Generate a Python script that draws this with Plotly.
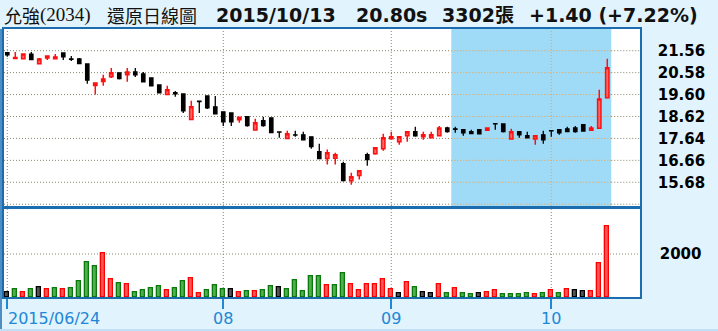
import plotly.graph_objects as go

# ---------------- data ----------------
dates = [
    "2015-06-24", "2015-06-25", "2015-06-26", "2015-06-29", "2015-06-30",
    "2015-07-01", "2015-07-02", "2015-07-03", "2015-07-06", "2015-07-07", "2015-07-08", "2015-07-09",
    "2015-07-13", "2015-07-14", "2015-07-15", "2015-07-16", "2015-07-17", "2015-07-20", "2015-07-21",
    "2015-07-22", "2015-07-23", "2015-07-24", "2015-07-27", "2015-07-28", "2015-07-29", "2015-07-30",
    "2015-07-31",
    "2015-08-03", "2015-08-04", "2015-08-05", "2015-08-06", "2015-08-07", "2015-08-10", "2015-08-11",
    "2015-08-12", "2015-08-13", "2015-08-14", "2015-08-17", "2015-08-18", "2015-08-19", "2015-08-20",
    "2015-08-21", "2015-08-24", "2015-08-25", "2015-08-26", "2015-08-27", "2015-08-28", "2015-08-31",
    "2015-09-01", "2015-09-02", "2015-09-03", "2015-09-04", "2015-09-07", "2015-09-08", "2015-09-09",
    "2015-09-10", "2015-09-11", "2015-09-14", "2015-09-15", "2015-09-16", "2015-09-17", "2015-09-18",
    "2015-09-21", "2015-09-22", "2015-09-23", "2015-09-24", "2015-09-25", "2015-09-30",
    "2015-10-01", "2015-10-02", "2015-10-05", "2015-10-06", "2015-10-07", "2015-10-08", "2015-10-12",
    "2015-10-13",
]

open_ = [21.47, 21.21, 21.20, 21.41, 20.98, 21.23, 21.20, 21.46, 21.19, 21.19,
         20.97, 20.00, 20.18, 20.40, 20.57, 20.49, 20.61, 20.52, 20.34, 20.03,
         19.60, 19.68, 19.63, 18.49, 19.31, 19.54, 19.05, 18.83, 18.78, 18.47,
         18.61, 18.02, 18.43, 18.56, 17.93, 17.64, 17.80, 17.80, 17.71, 17.05,
         16.74, 16.75, 16.51, 15.75, 15.98, 16.91, 16.96, 17.18, 17.63, 17.49,
         17.76, 17.94, 17.71, 17.67, 17.76, 18.11, 18.07, 18.03, 17.94, 18.03,
         18.01, 18.30, 18.29, 17.61, 17.94, 17.76, 17.61, 17.80, 17.99, 18.03,
         18.07, 18.11, 18.25, 18.01, 18.09, 19.46]
high = [21.50, 21.50, 21.42, 21.50, 21.23, 21.32, 21.41, 21.46, 21.32, 21.23,
        20.97, 20.12, 20.48, 20.79, 20.60, 20.79, 20.79, 20.61, 20.34, 20.03,
        19.99, 19.76, 19.63, 19.32, 19.31, 19.54, 19.54, 18.83, 18.78, 18.59,
        18.61, 18.52, 18.61, 18.56, 17.93, 17.98, 17.98, 17.94, 17.71, 17.40,
        17.14, 17.00, 16.60, 16.11, 16.20, 17.00, 17.22, 17.85, 17.94, 17.71,
        17.94, 18.16, 17.94, 17.94, 18.20, 18.16, 18.16, 18.03, 18.03, 18.03,
        18.11, 18.30, 18.29, 18.07, 17.94, 17.94, 17.76, 17.98, 17.99, 18.03,
        18.16, 18.20, 18.25, 18.20, 19.81, 21.20]
low = [21.29, 21.20, 21.19, 21.16, 20.94, 21.15, 21.20, 21.15, 21.10, 20.98,
       20.08, 19.60, 19.99, 20.34, 20.27, 20.17, 20.39, 20.17, 19.99, 19.68,
       19.60, 19.50, 18.78, 18.49, 18.78, 18.96, 18.74, 18.19, 18.20, 18.34,
       18.16, 17.98, 18.16, 17.90, 17.67, 17.64, 17.72, 17.58, 17.18, 16.74,
       16.47, 16.47, 15.71, 15.57, 15.80, 16.42, 16.91, 17.09, 17.62, 17.36,
       17.49, 17.71, 17.58, 17.67, 17.76, 17.89, 17.89, 17.76, 17.85, 17.84,
       18.01, 18.03, 17.91, 17.61, 17.67, 17.66, 17.36, 17.40, 17.71, 17.80,
       17.94, 17.89, 17.97, 17.97, 18.09, 19.46]
close = [21.37, 21.26, 21.41, 21.16, 21.19, 21.32, 21.28, 21.29, 21.17, 20.98,
         20.25, 20.12, 20.30, 20.57, 20.31, 20.61, 20.48, 20.17, 19.99, 19.68,
         19.81, 19.63, 18.87, 19.05, 19.29, 19.01, 18.74, 18.38, 18.38, 18.59,
         18.21, 18.34, 18.21, 17.90, 17.92, 17.85, 17.79, 17.58, 17.27, 16.74,
         17.00, 16.91, 15.75, 15.93, 16.20, 16.69, 17.22, 17.67, 17.71, 17.71,
         17.94, 17.76, 17.80, 17.80, 18.11, 17.94, 18.05, 17.89, 17.85, 17.84,
         18.11, 18.29, 17.94, 17.94, 17.80, 17.66, 17.76, 17.58, 17.98, 17.89,
         17.94, 17.94, 17.97, 18.11, 19.40, 20.80]

volume = [219, 359, 219, 359, 453, 359, 406, 359, 406, 734,
          1624, 1437, 2045, 828, 640, 593, 219, 312, 406, 500,
          312, 406, 734, 874, 172, 312, 547, 359, 359, 219,
          265, 265, 312, 500, 453, 359, 781, 265, 968, 968,
          547, 547, 1109, 593, 312, 593, 593, 828, 359, 172,
          687, 453, 219, 172, 593, 172, 406, 172, 125, 172,
          219, 312, 125, 125, 125, 172, 125, 172, 312, 172,
          359, 312, 265, 265, 1577, 3302]
# u = up vs previous close (red), d = down (green), f = flat (grey)
vol_dir = list("fdudfududd" "dduududddd" "udduudddfu" "duddfddddd"
               "udduuuuuuf" "udffududdf" "uuddddudud" "uffuuu")

price_ticks = [15.68, 16.66, 17.64, 18.62, 19.60, 20.58, 21.56]
price_grid = [14.70] + price_ticks
vol_ticks = [2000]
x_tick_dates = ["2015-06-24", "2015-08-03", "2015-09-01", "2015-10-01"]
x_tick_text = ["2015/06/24", "08", "09", "10"]
shade_from, shade_to = "2015-09-11", "2015-10-13"

title_parts = ["允強", "(2034)", "還原日線圖", "2015/10/13", "20.80s", "3302張", "+1.40 (+7.22%)"]

# ---------------- styling ----------------
W, H = 718, 331
BG = "#e1f3fc"
FRAME = "#1c6cb0"
GRID = "#86866e"
ORANGE = "#f2a046"
SHADE = "#9fdbf7"
AXBLUE = "#2287d6"

def py(px):  # pixel y (from top) -> paper fraction
    return 1 - px / H

def pxx(px):
    return px / W

x_range = [-0.41, 79.09]
idx = {d: i for i, d in enumerate(dates)}
s0 = idx[shade_from] - 0.5
s1 = idx[shade_to] + 0.5

fig = go.Figure()

fig.add_trace(go.Candlestick(
    x=dates, open=open_, high=high, low=low, close=close,
    increasing=dict(line=dict(color="#ff1010", width=1.5), fillcolor="#ff6a6a"),
    decreasing=dict(line=dict(color="#000000", width=1.3), fillcolor="#000000"),
    xaxis="x", yaxis="y", showlegend=False, hoverinfo="x+y",
))

fill_map = {"u": "#ff5757", "d": "#4fae4f", "f": "#555555"}
edge_map = {"u": "#ff0000", "d": "#0a7a0a", "f": "#000000"}
fig.add_trace(go.Bar(
    x=dates, y=volume, width=0.5,
    marker=dict(color=[fill_map[c] for c in vol_dir],
                line=dict(color=[edge_map[c] for c in vol_dir], width=1.3)),
    xaxis="x2", yaxis="y2", showlegend=False,
))

shapes = []
# shaded zone in price panel
shapes.append(dict(type="rect", xref="x", yref="y domain", x0=s0, x1=s1, y0=0, y1=1,
                   fillcolor=SHADE, line=dict(width=0), layer="below"))
# horizontal price grid
for v in price_grid:
    for (a, b, col) in [(x_range[0], s0, GRID), (s0, s1, ORANGE), (s1, x_range[1], GRID)]:
        shapes.append(dict(type="line", xref="x", yref="y", x0=a, x1=b, y0=v, y1=v,
                           line=dict(color=col, width=1, dash="1px,2px"), layer="below"))
# vertical grid lines
for d in x_tick_dates:
    i = idx[d]
    col = ORANGE if s0 < i < s1 else GRID
    shapes.append(dict(type="line", xref="x", yref="y domain", x0=i, x1=i, y0=0, y1=1,
                       line=dict(color=col, width=1, dash="1px,2px"), layer="below"))
    shapes.append(dict(type="line", xref="x2", yref="y2 domain", x0=i, x1=i, y0=0, y1=1,
                       line=dict(color=GRID, width=1, dash="1px,2px"), layer="below"))
# volume grid
for v in vol_ticks:
    shapes.append(dict(type="line", xref="x2", yref="y2", x0=x_range[0], x1=x_range[1], y0=v, y1=v,
                       line=dict(color=GRID, width=1, dash="1px,2px"), layer="below"))
# outer left frame line and bottom band
shapes.append(dict(type="line", xref="paper", yref="paper", x0=pxx(1), x1=pxx(1), y0=0, y1=py(29),
                   line=dict(color=FRAME, width=1.5)))
shapes.append(dict(type="rect", xref="paper", yref="paper", x0=0, x1=1, y0=0, y1=py(329),
                   fillcolor="#bfe0f6", line=dict(width=0)))

annotations = []
# title
title_x = [3, 39, 106, 215, 355, 441, 528]
title_fonts = [
    dict(family="Noto Sans CJK TC", size=18, color="#111111"),
    dict(family="Liberation Serif", size=19, color="#111111"),
    dict(family="Noto Sans CJK TC", size=18, color="#111111"),
    dict(family="DejaVu Sans", size=19, color="#111111", weight="bold"),
    dict(family="DejaVu Sans", size=19, color="#111111", weight="bold"),
    dict(family="DejaVu Sans, Noto Sans CJK TC", size=19, color="#111111", weight="bold"),
    dict(family="DejaVu Sans", size=19, color="#111111", weight="bold"),
]
for t, xp, f in zip(title_parts, title_x, title_fonts):
    annotations.append(dict(text=t, x=pxx(xp), y=py(15), xref="paper", yref="paper",
                            xanchor="left", yanchor="middle", showarrow=False, font=f,
                            borderpad=0))
# x-axis labels
for k, (d, t) in enumerate(zip(x_tick_dates, x_tick_text)):
    annotations.append(dict(text=t, x=idx[d], y=py(318), xref="x2", yref="paper",
                            xanchor="left" if k == 0 else "center", yanchor="middle",
                            showarrow=False, borderpad=0,
                            font=dict(family="DejaVu Sans", size=16, color=AXBLUE)))

axis_line = dict(showline=True, linecolor=FRAME, linewidth=1.5, mirror=True)
tickfont = dict(family="DejaVu Sans", size=15, color="#000000", weight="bold")

fig.update_layout(
    width=W, height=H,
    margin=dict(l=0, r=0, t=0, b=0),
    paper_bgcolor=BG, plot_bgcolor="#ffffff",
    boxgap=0.4,
    bargap=0,
    showlegend=False,
    hovermode=False,
    shapes=shapes,
    annotations=annotations,
    xaxis=dict(type="category", domain=[pxx(4), pxx(640)], range=x_range,
               showticklabels=False, ticks="", showgrid=False, zeroline=False,
               rangeslider=dict(visible=False), anchor="y", **axis_line),
    yaxis=dict(domain=[py(206), py(29)], range=[14.62, 22.53], side="right",
               tickvals=price_ticks, ticktext=[f"{v:.2f}" for v in price_ticks],
               ticks="", showgrid=False, zeroline=False, tickfont=tickfont,
               ticklabelstandoff=13, anchor="x", **axis_line),
    xaxis2=dict(type="category", domain=[pxx(4), pxx(640)], range=x_range,
                showticklabels=False, ticks="outside", ticklen=10, tickwidth=1.5,
                tickcolor=AXBLUE, tickvals=x_tick_dates, showgrid=False, zeroline=False,
                anchor="y2", **axis_line),
    yaxis2=dict(domain=[py(297), py(209.3)], range=[0, 4080], side="right",
                tickvals=vol_ticks, ticktext=[str(v) for v in vol_ticks],
                ticks="", showgrid=False, zeroline=False, tickfont=tickfont,
                ticklabelstandoff=15, anchor="x2", **axis_line),
)

fig.write_html("out.html")
